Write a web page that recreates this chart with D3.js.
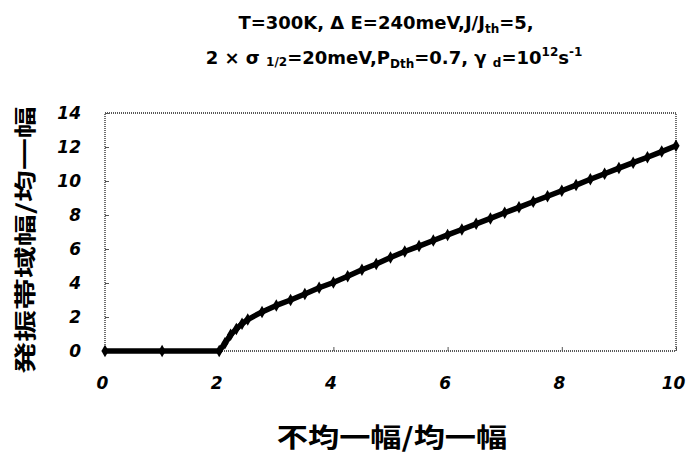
<!DOCTYPE html>
<html>
<head>
<meta charset="utf-8">
<script src="https://cdn.jsdelivr.net/npm/d3@7"></script>
<style>
  body { margin: 0; background: #fff; }
  text { fill: #000; }
</style>
</head>
<body>
<div id="chart"></div>
<script>
// values
let xValues = [0, 1, 2, 2.1, 2.2, 2.3, 2.4, 2.5, 2.75, 3, 3.25, 3.5, 3.75, 4, 4.25, 4.5, 4.75,
  5, 5.25, 5.5, 5.75, 6, 6.25, 6.5, 6.75, 7, 7.25, 7.5, 7.75, 8, 8.25, 8.5, 8.75, 9, 9.25, 9.5, 9.75, 10];
let yValues = [0, 0, 0, 0.45, 0.95, 1.3, 1.6, 1.85, 2.3, 2.68, 3.0, 3.35, 3.72, 4.03, 4.4, 4.78, 5.12,
  5.5, 5.85, 6.17, 6.5, 6.83, 7.15, 7.48, 7.8, 8.13, 8.45, 8.78, 9.1, 9.43, 9.76, 10.1, 10.43, 10.76, 11.08, 11.4, 11.73, 12.07];
let xTicks = [0, 2, 4, 6, 8, 10];
let yTicks = [0, 2, 4, 6, 8, 10, 12, 14];

let data = xValues.map((x, i) => ({ x: x, y: yValues[i] }));

let width = 686, height = 453;
let margin = { top: 113, right: 8, bottom: 101, left: 105 };
let w = width - margin.left - margin.right;
let h = height - margin.top - margin.bottom;

let cjkFont = '"Noto Sans CJK JP", sans-serif';
let latinFont = '"DejaVu Sans", sans-serif';

let svg = d3.select('#chart')
  .append('svg')
  .attr('width', width)
  .attr('height', height);

let g = svg.append('g')
  .attr('transform', 'translate(' + margin.left + ',' + margin.top + ')');

// scales
let xScale = d3.scaleLinear().domain([0, 10]).range([0, w - 2]);
let yScale = d3.scaleLinear().domain([0, 14]).range([h - 1, 0]);

// dotted frame
g.append('rect')
  .attr('x', 0)
  .attr('y', 0)
  .attr('width', xScale(10))
  .attr('height', yScale(0))
  .attr('fill', 'none')
  .attr('stroke', '#222')
  .attr('stroke-width', 1.3)
  .attr('stroke-dasharray', '1,1');

// x axis
let xAxis = d3.axisBottom(xScale).tickValues(xTicks).tickSize(-4).tickPadding(26);
let xg = g.append('g')
  .attr('transform', 'translate(0,' + yScale(0) + ')')
  .call(xAxis);
xg.select('.domain').remove();
xg.selectAll('line').attr('stroke', '#555');
xg.selectAll('text')
  .style('font-family', latinFont)
  .style('font-size', '17px')
  .style('font-weight', 'bold')
  .style('font-style', 'italic')
  .attr('x', -3);

// y axis
let yAxis = d3.axisLeft(yScale).tickValues(yTicks).tickSize(-4).tickPadding(24);
let yg = g.append('g').call(yAxis);
yg.select('.domain').remove();
yg.selectAll('line').attr('stroke', '#555');
yg.selectAll('text')
  .style('font-family', latinFont)
  .style('font-size', '17px')
  .style('font-weight', 'bold')
  .style('font-style', 'italic');

// curve
let line = d3.line().x(d => xScale(d.x)).y(d => yScale(d.y));
g.append('path')
  .datum(data)
  .attr('d', line)
  .attr('fill', 'none')
  .attr('stroke', '#000')
  .attr('stroke-width', 5.5)
  .attr('stroke-linejoin', 'round');

g.selectAll('.pt')
  .data(data)
  .enter()
  .append('path')
  .attr('class', 'pt')
  .attr('d', d3.symbol().type(d3.symbolDiamond).size(45))
  .attr('transform', d => 'translate(' + xScale(d.x) + ',' + yScale(d.y) + ')')
  .attr('fill', '#000');

// axis titles
svg.append('text')
  .attr('transform', 'translate(392,447) scale(1.2,1)')
  .attr('text-anchor', 'middle')
  .style('font-family', cjkFont)
  .style('font-size', '26px')
  .style('font-weight', 'bold')
  .text('不均一幅/均一幅');

svg.append('text')
  .attr('transform', 'translate(23,240) rotate(-90) scale(1.45,1)')
  .attr('text-anchor', 'middle')
  .attr('dominant-baseline', 'central')
  .style('font-family', cjkFont)
  .style('font-size', '22px')
  .style('font-weight', 'bold')
  .text('発振帯域幅/均一幅');

// chart title
let t1 = svg.append('text')
  .attr('x', 386)
  .attr('y', 29)
  .attr('text-anchor', 'middle')
  .style('font-family', latinFont)
  .style('font-size', '18px')
  .style('font-weight', 'bold');
t1.append('tspan').text('T=300K, Δ E=240meV,J/J');
t1.append('tspan').style('font-size', '12px').attr('dy', 4).text('th');
t1.append('tspan').attr('dy', -4).text('=5,');

let t2 = svg.append('text')
  .attr('x', 394)
  .attr('y', 64)
  .attr('text-anchor', 'middle')
  .style('font-family', latinFont)
  .style('font-size', '18px')
  .style('font-weight', 'bold');
t2.append('tspan').text('2 × σ ');
t2.append('tspan').style('font-size', '12px').attr('dy', 2).text('1/2');
t2.append('tspan').attr('dy', -2).text('=20meV,P');
t2.append('tspan').style('font-size', '12px').attr('dy', 4).text('Dth');
t2.append('tspan').attr('dy', -4).text('=0.7, γ ');
t2.append('tspan').style('font-size', '12px').attr('dy', 3).text('d');
t2.append('tspan').attr('dy', -3).text('=10');
t2.append('tspan').style('font-size', '12px').attr('dy', -8).text('12');
t2.append('tspan').attr('dy', 8).text('s');
t2.append('tspan').style('font-size', '12px').attr('dy', -8).text('-1');
</script>
</body>
</html>
